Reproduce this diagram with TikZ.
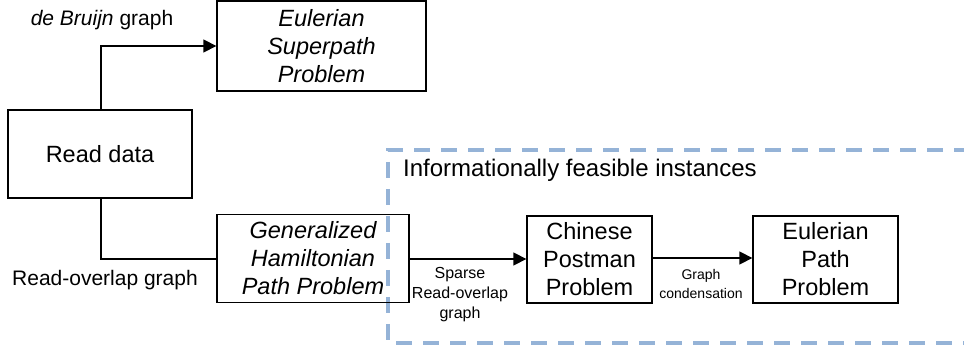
\documentclass[tikz,border=0pt]{standalone}
\usepackage{fontspec}
\setmainfont{Liberation Sans}
\usetikzlibrary{arrows.meta}
\definecolor{dashblue}{RGB}{149,179,215}
\tikzset{
  box/.style={draw=black, line width=1.3pt, align=center, inner sep=0pt,
    font=\fontsize{23.5}{28}\selectfont},
  conn/.style={line width=1.3pt, draw=black},
  arr/.style={conn, -{Triangle[length=13pt,width=13pt]}},
  lbl/.style={align=center, inner sep=0pt, font=\fontsize{21}{25}\selectfont},
  small/.style={align=center, inner sep=0pt, font=\fontsize{16}{20}\selectfont},
  tiny/.style={align=center, inner sep=0pt, font=\fontsize{14}{18.5}\selectfont},
}
\begin{document}
\begin{tikzpicture}[x=1pt, y=-1pt]
\useasboundingbox (0,0) rectangle (964,355);
% dashed region
\draw[dashblue, line width=4pt, dash pattern=on 16pt off 11pt]
  (970,150) -- (388,150) -- (388,343) -- (970,343);
\node[anchor=west, inner sep=0pt, font=\fontsize{24}{28}\selectfont] (head) at (403,170) {Informationally feasible instances};
% boxes
\node[box, minimum width=209pt, minimum height=90pt] (esp) at (321.5,46) {\itshape Eulerian\\\itshape Superpath\\\itshape Problem};
\node[box, minimum width=184pt, minimum height=88pt] (rd) at (100,154) {Read data};
\node[box, minimum width=192pt, minimum height=88pt] (ghp) at (313,258.5) {\itshape Generalized\\\itshape Hamiltonian\\\itshape Path Problem};
\node[box, minimum width=125pt, minimum height=87pt] (cpp) at (589.5,259.5) {Chinese\\Postman\\Problem};
\node[box, minimum width=145pt, minimum height=87pt] (epp) at (825.5,259.5) {Eulerian\\Path\\Problem};
% connectors
\coordinate (c1) at (101,46);
\coordinate (c2) at (101,259);
\draw[arr] (rd.north -| c1) -- (c1) -- (esp.west |- c1);
\draw[conn] (rd.south -| c2) -- (c2) -- (ghp.west |- c2);
\draw[arr] (ghp.east |- c2) -- (cpp.west |- c2);
\draw[arr] (cpp.east |- 0,258) -- (epp.west |- 0,258);
% labels
\node[lbl] (db) at (102,20) {\textit{de Bruijn} graph};
\node[lbl] (ro) at (105,280) {Read-overlap graph};
\node[small] (sp) at (460,295) {Sparse\\Read-overlap\\graph};
\node[tiny] (gc) at (701,284) {Graph\\condensation};
\end{tikzpicture}
\end{document}
